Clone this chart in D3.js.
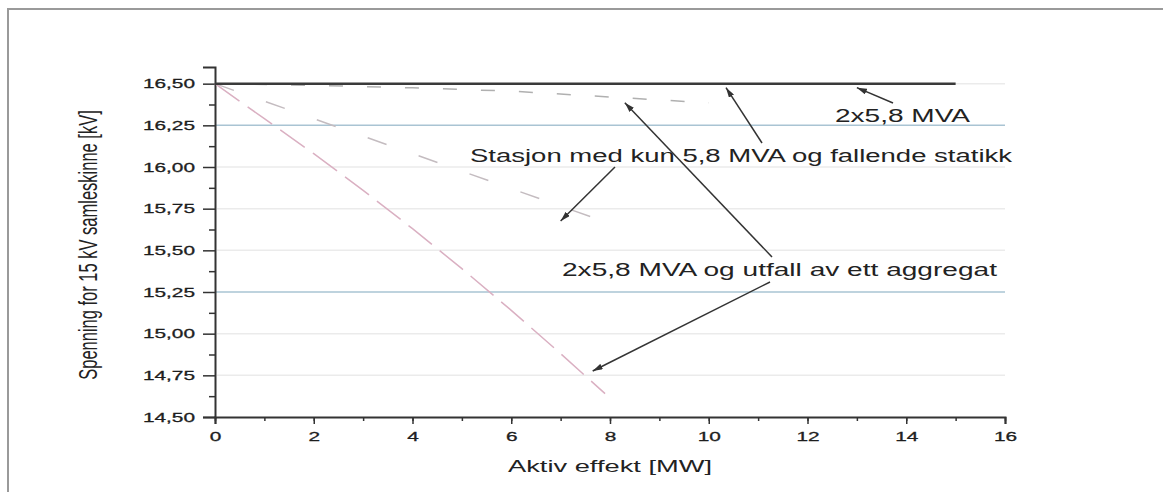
<!DOCTYPE html>
<html>
<head>
<meta charset="utf-8">
<script src="https://cdn.jsdelivr.net/npm/d3@7"></script>
<style>
	body { margin: 0; background: white; }
	text { font-family: Arial, "Liberation Sans", sans-serif; fill: #222; }
</style>
</head>
<body>
<div class="chart"></div>
<script>
// values
const xTicks = [0, 2, 4, 6, 8, 10, 12, 14, 16]
const yTicks = [14.5, 14.75, 15.0, 15.25, 15.5, 15.75, 16.0, 16.25, 16.5]
const limitLines = [16.25, 15.25]

const fullX = [0, 15]
const fullV = [16.5, 16.5]

const tripX = [0, 2, 4, 6, 8, 10]
const tripV = [16.5, 16.49, 16.475, 16.455, 16.42, 16.385]

const singleX = [0, 2, 4, 6, 8.2]
const singleV = [16.5, 16.29, 16.08, 15.87, 15.64]

const droopX = [0, 1, 2, 3, 4, 5, 6, 7, 7.9]
const droopV = [16.5, 16.29, 16.08, 15.86, 15.63, 15.39, 15.14, 14.88, 14.64]

const labels = ["2x5,8 MVA", "Stasjon med kun 5,8 MVA og fallende statikk", "2x5,8 MVA og utfall av ett aggregat"]

function plot_chart() {
	let width = 1163
	let height = 492
	let stretch = 1.6

	let svg = d3.select(".chart")
		.append("svg")
		.attr("width", width)
		.attr("height", height)

	// scan frame
	svg.append("rect")
		.attr("x", 8).attr("y", 9)
		.attr("width", 1200).attr("height", 520)
		.attr("fill", "none")
		.attr("stroke", "#9a9a9a")
		.attr("stroke-width", 2)

	let x = d3.scaleLinear().domain([0, 16]).range([215, 1005])
	let y = d3.scaleLinear().domain([14.5, 16.6]).range([417, 67])

	// grid
	svg.selectAll("line.grid")
		.data(yTicks.filter(d => d > 14.5 && !limitLines.includes(d)))
		.join("line")
		.attr("class", "grid")
		.attr("x1", x(0) + 2).attr("x2", x(16))
		.attr("y1", d => y(d)).attr("y2", d => y(d))
		.attr("stroke", "#ebebeb")
		.attr("stroke-width", 1.5)

	svg.selectAll("line.limit")
		.data(limitLines)
		.join("line")
		.attr("class", "limit")
		.attr("x1", x(0)).attr("x2", x(16))
		.attr("y1", d => y(d)).attr("y2", d => y(d))
		.attr("stroke", "#a9c4d3")
		.attr("stroke-width", 1.5)

	// axes
	let xAxis = svg.append("g")
		.attr("transform", `translate(0,${y(14.5)})`)
		.call(d3.axisBottom(x).tickValues(d3.range(0, 17, 1)).tickSize(4).tickFormat(""))
	xAxis.select(".domain").remove()
	xAxis.selectAll("line").attr("stroke", "#333").attr("stroke-width", 1.5)

	let xMajor = svg.append("g")
		.attr("transform", `translate(0,${y(14.5)})`)
		.call(d3.axisBottom(x).tickValues(xTicks).tickSize(7).tickPadding(8).tickFormat(d => d))
	xMajor.select(".domain").attr("stroke", "#333").attr("stroke-width", 2)
	xMajor.selectAll("line").attr("stroke", "#333").attr("stroke-width", 1.5)

	let yMinor = svg.append("g")
		.attr("transform", `translate(${x(0)},0)`)
		.call(d3.axisLeft(y).tickValues(d3.range(14.625, 16.5, 0.25)).tickSize(6).tickFormat(""))
	yMinor.select(".domain").remove()
	yMinor.selectAll("line").attr("stroke", "#333").attr("stroke-width", 1.5)

	let yMajor = svg.append("g")
		.attr("transform", `translate(${x(0)},0)`)
		.call(d3.axisLeft(y).tickValues(yTicks).tickSize(12).tickPadding(8)
			.tickFormat(d => d3.format(".2f")(d).replace(".", ",")))
	yMajor.select(".domain").attr("stroke", "#333").attr("stroke-width", 2)
	yMajor.selectAll("line").attr("stroke", "#333").attr("stroke-width", 1.5)

	svg.selectAll(".tick text")
		.style("font-size", "13px")
		.style("font-family", "Arial, 'Liberation Sans', sans-serif")
		.attr("fill", "#1a1a1a")
		.attr("stroke", "#1a1a1a")
		.attr("stroke-width", 0.3)
		.each(function () {
			let len = this.getComputedTextLength()
			d3.select(this).attr("textLength", len * stretch).attr("lengthAdjust", "spacingAndGlyphs")
		})

	// series
	let line = d3.line().x(d => x(d[0])).y(d => y(d[1]))

	svg.append("path")
		.datum(d3.zip(tripX, tripV))
		.attr("d", line)
		.attr("fill", "none")
		.attr("stroke", "#b0b0b0")
		.attr("stroke-width", 1.5)
		.attr("stroke-dasharray", "14,24")

	svg.append("path")
		.datum(d3.zip(singleX, singleV))
		.attr("d", line)
		.attr("fill", "none")
		.attr("stroke", "#c4bcc0")
		.attr("stroke-width", 1.5)
		.attr("stroke-dasharray", "20,34")

	svg.append("path")
		.datum(d3.zip(droopX, droopV))
		.attr("d", line)
		.attr("fill", "none")
		.attr("stroke", "#dab0c2")
		.attr("stroke-width", 1.5)
		.attr("stroke-dasharray", "30,10")

	svg.append("path")
		.datum(d3.zip(fullX, fullV))
		.attr("d", line)
		.attr("fill", "none")
		.attr("stroke", "#3a3a3a")
		.attr("stroke-width", 2.5)

	// axis titles
	svg.append("text")
		.attr("x", x(8)).attr("y", 472)
		.attr("text-anchor", "middle")
		.style("font-size", "16.5px")
		.attr("textLength", 204).attr("lengthAdjust", "spacingAndGlyphs")
		.text("Aktiv effekt [MW]")

	svg.append("text")
		.attr("transform", `translate(97,${(y(16.6) + y(14.5)) / 2 + 3}) scale(${stretch},1) rotate(-90)`)
		.attr("text-anchor", "middle")
		.style("font-size", "16.5px")
		.text("Spenning for 15 kV samleskinne [kV]")

	// annotations
	let defs = svg.append("defs")
	defs.append("marker")
		.attr("id", "head")
		.attr("viewBox", "0 0 10 6")
		.attr("refX", 10).attr("refY", 3)
		.attr("markerWidth", 10).attr("markerHeight", 6)
		.attr("markerUnits", "userSpaceOnUse")
		.attr("orient", "auto")
		.append("path")
		.attr("d", "M0,0 L10,3 L0,6 Z")
		.attr("fill", "#333")

	let notes = [
		{ text: labels[0], x: 835, y: 122, len: 135 },
		{ text: labels[1], x: 470, y: 162, len: 542 },
		{ text: labels[2], x: 562, y: 276, len: 435 }
	]
	svg.selectAll("text.note")
		.data(notes)
		.join("text")
		.attr("class", "note")
		.attr("x", d => d.x).attr("y", d => d.y)
		.attr("textLength", d => d.len).attr("lengthAdjust", "spacingAndGlyphs")
		.style("font-size", "17.5px")
		.text(d => d.text)

	// arrows: start on the text, tip at a point of a series
	let arrows = [
		[[893, 103], [13.0, 16.5]],
		[[762, 143], [10.35, 16.5]],
		[[772, 257], [8.3, 16.41]],
		[[615, 167], [7.0, 15.70]],
		[[770, 282], [7.65, 14.8]]
	]
	svg.selectAll("line.arrow")
		.data(arrows)
		.join("line")
		.attr("class", "arrow")
		.attr("x1", d => d[0][0]).attr("y1", d => d[0][1])
		.attr("x2", d => x(d[1][0])).attr("y2", d => y(d[1][1]) + 4)
		.attr("stroke", "#333")
		.attr("stroke-width", 1.5)
		.attr("marker-end", "url(#head)")
}

plot_chart()
</script>
</body>
</html>
